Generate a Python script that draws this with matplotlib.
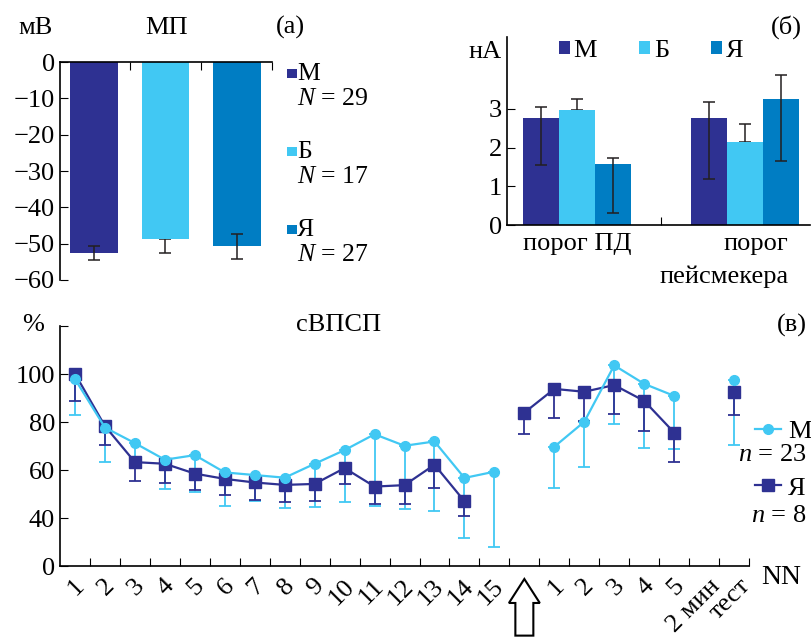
import numpy as np
import matplotlib
matplotlib.use('Agg')
import matplotlib.pyplot as plt
import matplotlib.transforms as mtransforms
from matplotlib.patches import Patch, FancyArrow, Rectangle
from matplotlib.lines import Line2D

plt.rcParams['font.family'] = ['Liberation Serif', 'DejaVu Serif']
plt.rcParams['mathtext.fontset'] = 'custom'
plt.rcParams['mathtext.rm'] = 'Liberation Serif'
plt.rcParams['mathtext.it'] = 'Liberation Serif:italic'
plt.rcParams['font.size'] = 19
plt.rcParams['axes.linewidth'] = 1.2

NAVY = '#2E3192'
LIGHT = '#41C8F3'
MID = '#007DC3'
ERR = '#231F20'
FS = 19

# ---- (а) МП ----
groups = ['М', 'Б', 'Я']
group_colors = [NAVY, LIGHT, MID]
mp_n = [29, 17, 27]
mp_mean = [-52.6, -48.7, -50.7]
mp_err_lo = [2.0, 3.8, 3.4]
mp_err_hi = [2.0, 0.0, 3.4]

# ---- (б) пороги, нА ----
thr_labels = ['порог ПД', 'порог\nпейсмекера']
thr_M = [2.77, 2.77]
thr_M_lo = [1.22, 1.57]
thr_M_hi = [0.28, 0.40]
thr_B = [2.98, 2.15]
thr_B_lo = [0.0, 0.0]
thr_B_hi = [0.27, 0.47]
thr_Ya = [1.58, 3.27]
thr_Ya_lo = [1.28, 1.62]
thr_Ya_hi = [0.16, 0.61]

# ---- (в) сВПСП, % ----
nan = np.nan
epsp_labels = ['1', '2', '3', '4', '5', '6', '7', '8', '9', '10', '11', '12', '13', '14', '15',
               '', '1', '2', '3', '4', '5', '2 мин', 'тест']
epsp_M = [97.9, 77.7, 71.2, 64.3, 66.2, 59.0, 57.9, 56.8, 62.6, 68.3, 74.9, 70.1, 71.9, 56.7, 59.3,
          nan, 69.7, 80.1, 103.6, 95.9, 90.9, nan, 97.5]
epsp_M_low = [82.9, 63.4, 63.3, 51.9, 51.0, 45.2, 47.0, 44.1, 44.6, 46.6, 45.2, 43.7, 42.9, 23.1, 15.7,
              nan, 52.7, 61.4, 79.2, 69.2, 68.6, nan, 70.3]
epsp_Ya = [100.1, 78.3, 63.3, 62.6, 58.5, 56.3, 54.8, 53.8, 54.2, 60.8, 53.1, 53.7, 62.2, 47.0, nan,
           83.9, 93.8, 92.6, 95.4, 88.8, 75.6, nan, 92.6]
epsp_Ya_low = [88.7, 70.5, 55.3, 54.6, 51.7, 49.7, 47.4, 46.6, 46.9, 54.1, 45.7, 45.8, 52.7, 40.7, nan,
               74.8, 81.5, 80.5, 83.2, 76.4, 63.2, nan, 82.8]
epsp_n = [23, 8]

fig = plt.figure(figsize=(8.11, 6.4), dpi=100)

# ================= (а) =================
ax1 = fig.add_axes([0.074, 0.5625, 0.2614, 0.3406])
x1 = np.arange(len(groups))
ax1.bar(x1, mp_mean, width=0.67, color=group_colors, zorder=2)
for i in range(len(groups)):
    z = 3 if mp_err_hi[i] > 0 else 1
    ax1.errorbar(x1[i], mp_mean[i], yerr=[[mp_err_lo[i]], [mp_err_hi[i]]], fmt='none',
                 ecolor=ERR, elinewidth=1.1, capsize=4.5, capthick=1.1, zorder=z)
ax1.set_ylim(-60, 0)
ax1.set_xlim(-0.475, len(groups) - 0.51)
ax1.set_yticks(np.arange(-60, 1, 10))
ax1.spines['bottom'].set_visible(False)
ax1.spines['right'].set_visible(False)
ax1.xaxis.tick_top()
ax1.set_xticks([0.5, 1.5, len(groups) - 0.51])
ax1.tick_params(axis='x', direction='in', length=6, labeltop=False, labelbottom=False)
ax1.tick_params(axis='y', direction='in', length=6, labelsize=FS)
# legend of (а): colour key + group size, one text block per group
for g, c, n, yy in zip(groups, group_colors, mp_n, [0.995, 0.637, 0.28]):
    ax1.add_patch(Rectangle((1.071, yy - 0.068), 0.047, 0.041, transform=ax1.transAxes,
                            facecolor=c, edgecolor='none', clip_on=False))
    ax1.text(1.118, yy, f'{g}\n$N$ = {n}', transform=ax1.transAxes, va='top', ha='left',
             linespacing=1.15, fontsize=18.5)

fig.text(0.044, 0.957, 'мВ', ha='center', va='center', fontsize=FS)
fig.text(0.205, 0.957, 'МП', ha='center', va='center', fontsize=FS)
fig.text(0.358, 0.957, '(а)', ha='center', va='center', fontsize=FS)

# ================= (б) =================
ax2 = fig.add_axes([0.6252, 0.6484, 0.3736, 0.2938])
x2 = np.arange(len(thr_labels))
w = 0.215
series = [(thr_M, thr_M_lo, thr_M_hi), (thr_B, thr_B_lo, thr_B_hi), (thr_Ya, thr_Ya_lo, thr_Ya_hi)]
for k, (vals, lo, hi) in enumerate(series):
    xs = x2 + (k - 1) * w
    ax2.bar(xs, vals, width=w, color=group_colors[k], zorder=2)
    z = 3 if max(lo) > 0 else 1
    ax2.errorbar(xs, vals, yerr=[lo, hi], fmt='none', ecolor=ERR, elinewidth=1.1,
                 capsize=4.5, capthick=1.1, zorder=z)
ax2.set_ylim(0, 4.86)
ax2.set_xlim(-0.418, 1.39)
ax2.set_yticks([0, 1, 2, 3])
ax2.set_xticks([0.5])
ax2.tick_params(axis='x', direction='in', length=6, labelbottom=False)
ax2.tick_params(axis='y', direction='in', length=6, labelsize=FS)
ax2.spines['top'].set_visible(False)
ax2.spines['right'].set_visible(False)
trans2 = mtransforms.blended_transform_factory(ax2.transData, ax2.transAxes)
ax2.text(x2[0], -0.045, thr_labels[0], transform=trans2, ha='center', va='top', fontsize=FS)
ax2.text(x2[1] + 0.26, -0.045, thr_labels[1], transform=trans2, ha='right', va='top',
         multialignment='right', linespacing=1.6, fontsize=FS)
ax2.legend([Patch(facecolor=c) for c in group_colors], groups, ncol=3,
           loc='center left', bbox_to_anchor=(0.172, 0.925), frameon=False,
           borderpad=0, borderaxespad=0, handlelength=0.4, handleheight=0.4,
           handletextpad=0.15, columnspacing=1.6, fontsize=FS)
fig.text(0.598, 0.919, 'нА', ha='center', va='center', fontsize=FS)
fig.text(0.970, 0.957, '(б)', ha='center', va='center', fontsize=FS)

# ================= (в) =================
def fwd(v):
    v = np.asarray(v, dtype=float)
    return np.where(v >= 40, v, 20 + v / 2)


def inv(u):
    u = np.asarray(u, dtype=float)
    return np.where(u >= 40, u, (u - 20) * 2)


ax3 = fig.add_axes([0.074, 0.1156, 0.8496, 0.375])
ax3.set_yscale('function', functions=(fwd, inv))
x3 = np.arange(len(epsp_labels))
m = np.array(epsp_M)
ya = np.array(epsp_Ya)
m_err = [m - np.array(epsp_M_low), np.zeros(len(m))]
ya_err = [ya - np.array(epsp_Ya_low), np.zeros(len(ya))]
ax3.errorbar(x3, m, yerr=m_err, fmt='none', ecolor=LIGHT, elinewidth=1.3,
             capsize=4.5, capthick=1.3, zorder=1)
ax3.errorbar(x3, ya, yerr=ya_err, fmt='none', ecolor=NAVY, elinewidth=1.3,
             capsize=4.5, capthick=1.3, zorder=2)
ax3.plot(x3, ya, color=NAVY, lw=1.6, marker='s', ms=8, zorder=3)
ax3.plot(x3, m, color=LIGHT, lw=1.6, marker='o', ms=7, zorder=4)

ax3.set_xlim(-0.5, len(epsp_labels) - 0.5)
ax3.set_ylim(0, 120)
ax3.set_yticks([0, 40, 60, 80, 100, 120])
ax3.set_yticklabels(['0', '40', '60', '80', '100', ''])
ax3.yaxis.set_minor_locator(matplotlib.ticker.NullLocator())
ax3.set_xticks(np.arange(0.5, len(epsp_labels), 1))
ax3.set_xticklabels([])
ax3.set_xticks(x3, minor=True)
ax3.set_xticklabels(epsp_labels, minor=True, rotation=45, rotation_mode='anchor',
                    ha='right', va='center')
ax3.tick_params(axis='x', which='major', direction='in', length=6)
ax3.tick_params(axis='x', which='minor', length=0, pad=12, labelsize=FS)
ax3.tick_params(axis='y', direction='in', length=6, labelsize=FS)
ax3.spines['top'].set_visible(False)
ax3.spines['right'].set_visible(False)
minor_lbls = ax3.get_xticklabels(minor=True)
for k, lbl in enumerate(minor_lbls):
    dx = 13 if k >= len(minor_lbls) - 2 else 6
    lbl.set_transform(lbl.get_transform() + mtransforms.ScaledTranslation(dx / 100, 0, fig.dpi_scale_trans))

# arrow marking the break between series
arrow_at = epsp_labels.index('')
trans3 = mtransforms.blended_transform_factory(ax3.transData, ax3.transAxes)
ax3.add_patch(FancyArrow(x3[arrow_at], -0.29, 0, 0.236, width=0.6, head_width=1.03,
                         head_length=0.1, length_includes_head=True, transform=trans3,
                         clip_on=False, fc='white', ec='black', lw=1.5))

h_m = Line2D([], [], color=LIGHT, lw=1.6, marker='o', ms=7)
h_ya = Line2D([], [], color=NAVY, lw=1.6, marker='s', ms=8)
ax3.legend([h_m, h_ya], ['М', 'Я'], loc='upper left', bbox_to_anchor=(1.0087, 0.61),
           frameon=False, borderpad=0, borderaxespad=0, handlelength=1.0,
           handletextpad=0.25, labelspacing=1.25, fontsize=FS)
for n, yy in zip(epsp_n, [0.4625, 0.208]):
    ax3.text(1.083, yy, f'$n$ = {n}', transform=ax3.transAxes, ha='right', va='center', fontsize=FS)

fig.text(0.041, 0.492, '%', ha='center', va='center', fontsize=FS)
fig.text(0.418, 0.492, 'сВПСП', ha='center', va='center', fontsize=FS)
fig.text(0.977, 0.492, '(в)', ha='center', va='center', fontsize=FS)
fig.text(0.963, 0.097, 'NN', ha='center', va='center', fontsize=20)

fig.savefig('out.png', dpi=100)
